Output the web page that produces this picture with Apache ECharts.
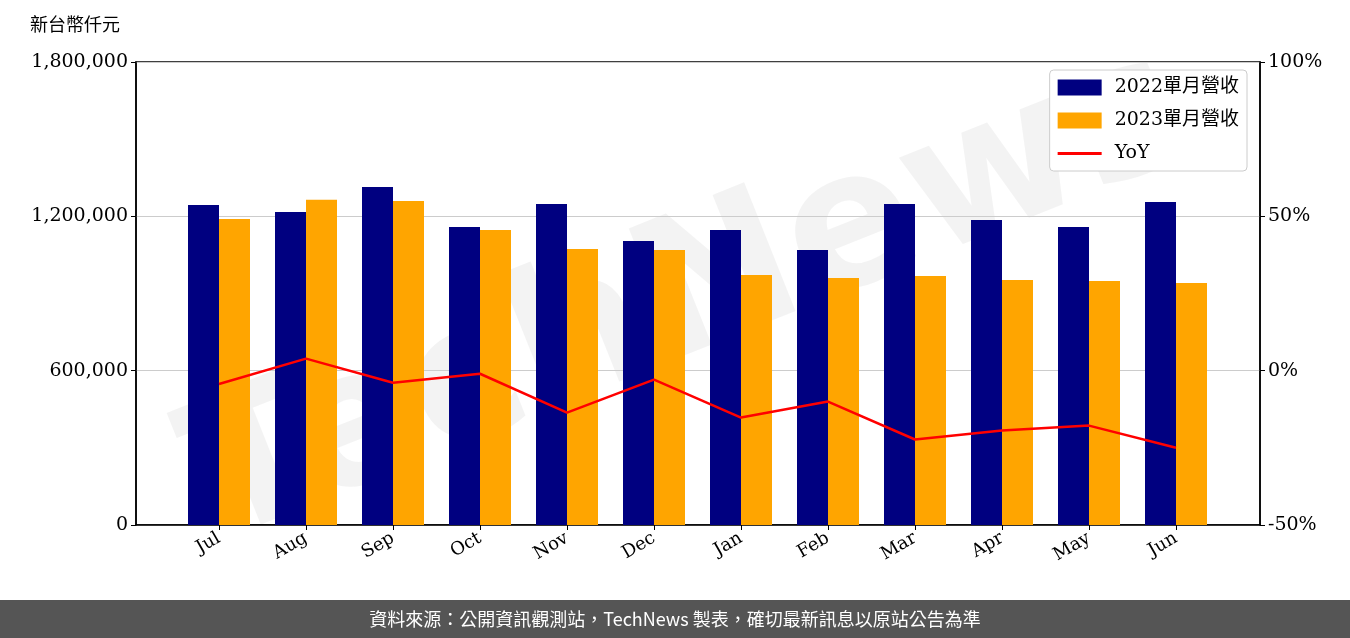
<!DOCTYPE html>
<html><head><meta charset="utf-8">
<script src="https://cdn.jsdelivr.net/npm/echarts@6/dist/echarts.min.js"></script>
<style>html,body{margin:0;padding:0;background:#fff}#c{width:1350px;height:638px}</style>
</head><body><div id="c"></div>
<script>
const months=['Jul','Aug','Sep','Oct','Nov','Dec','Jan','Feb','Mar','Apr','May','Jun'];
const rev2022=[1244000,1217000,1314000,1159000,1248000,1104000,1147000,1069000,1248000,1186000,1159000,1256000];
const rev2023=[1190000,1264000,1260000,1147000,1073000,1069000,972000,960000,968000,952000,949000,941000];
const yoy=[-4.3,3.9,-3.9,-1.0,-13.6,-2.9,-15.2,-10.0,-22.3,-19.4,-17.8,-25.0];
const serif='"DejaVu Serif","Liberation Serif",serif';
const cjk='"Noto Sans CJK TC","Noto Sans CJK SC",sans-serif';
const chart=echarts.init(document.getElementById('c'));
chart.setOption({
  animation:false,
  grid:[{left:136,right:90,top:62,bottom:113,show:true,borderColor:'#000',borderWidth:1.5,backgroundColor:'transparent'},
        {left:175.5,right:130.5,top:62,bottom:113}],
  xAxis:[{gridIndex:0,type:'category',data:[''],axisLine:{lineStyle:{color:'#000',width:1.5}},axisTick:{show:false},axisLabel:{show:false}},
         {gridIndex:1,type:'category',data:months,axisLine:{show:false},
          axisTick:{show:true,alignWithLabel:true,length:5,lineStyle:{color:'#000'}},
          axisLabel:{rotate:30,fontFamily:serif,fontSize:18,color:'#000',margin:12}}],
  yAxis:[{gridIndex:0,type:'value',min:0,max:1800000,interval:600000,
          axisLine:{show:true,lineStyle:{color:'#000',width:1.5}},axisTick:{show:true,length:5,lineStyle:{color:'#000'}},
          axisLabel:{fontFamily:serif,fontSize:19,color:'#000',formatter:v=>v.toLocaleString('en-US')},
          splitLine:{show:true,lineStyle:{color:'#ccc',width:1.2}}},
         {gridIndex:0,type:'value',min:-50,max:100,interval:50,position:'right',
          axisLine:{show:true,lineStyle:{color:'#000',width:1.5}},axisTick:{show:true,length:5,lineStyle:{color:'#000'}},
          axisLabel:{fontFamily:serif,fontSize:19,color:'#000',formatter:'{value}%'},splitLine:{show:false}},
         {gridIndex:1,type:'value',min:0,max:1800000,show:false},
         {gridIndex:1,type:'value',min:-50,max:100,show:false}],
  legend:{right:103,top:70,orient:'vertical',backgroundColor:'#fff',borderColor:'#ccc',borderWidth:1,borderRadius:4,
          padding:[8,8,8,8],itemGap:14,itemWidth:44,itemHeight:16,
          textStyle:{fontFamily:serif+','+cjk,fontSize:19,color:'#000',padding:[0,0,0,8]},
          data:[{name:'2022單月營收',icon:'rect'},{name:'2023單月營收',icon:'rect'},
                {name:'YoY',icon:'path://M0,0L0.01,0L0.01,0.01L0,0.01Z M0,6.5L44,6.5L44,9.5L0,9.5Z M43.99,15.99L44,15.99L44,16L43.99,16Z',itemStyle:{color:'#FF0000'}}]},
  graphic:[
    {type:'text',left:30,top:15,style:{text:'新台幣仟元',font:'18px '+cjk,fill:'#000'}},
    {type:'text',x:690,y:300,rotation:0.38,z:-1,
     style:{text:'TechNews',font:'bold 190px "DejaVu Sans"',fill:'rgba(215,215,215,0.3)',textAlign:'center',textVerticalAlign:'middle'}},
    {type:'rect',shape:{x:0,y:600,width:1350,height:38},style:{fill:'#555'}},
    {type:'text',x:675,y:619,style:{text:'資料來源：公開資訊觀測站，TechNews 製表，確切最新訊息以原站公告為準',font:'18px '+cjk,fill:'#fff',textAlign:'center',textVerticalAlign:'middle'}}
  ],
  series:[
    {name:'2022單月營收',type:'bar',xAxisIndex:1,yAxisIndex:2,data:rev2022,barWidth:31,barGap:'0%',itemStyle:{color:'#000080'}},
    {name:'2023單月營收',type:'bar',xAxisIndex:1,yAxisIndex:2,data:rev2023,barWidth:31,barGap:'0%',itemStyle:{color:'#FFA500'}},
    {name:'YoY',type:'line',xAxisIndex:1,yAxisIndex:3,data:yoy,symbol:'none',lineStyle:{color:'#FF0000',width:2.5},itemStyle:{color:'#FF0000'},z:5}
  ]
});
</script></body></html>
